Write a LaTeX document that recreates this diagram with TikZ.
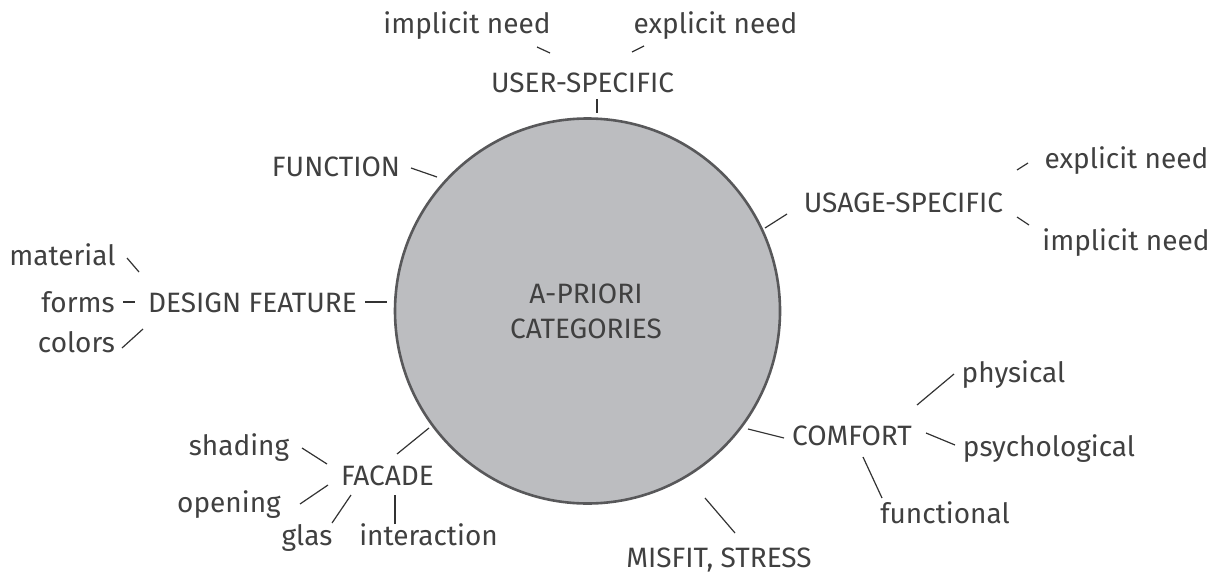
\documentclass[tikz,border=0pt]{standalone}
\usepackage{fontspec}
\setmainfont{Fira Sans}
\definecolor{txt}{HTML}{404040}
\definecolor{lin}{HTML}{333333}
\definecolor{circfill}{HTML}{BCBDC0}
\definecolor{circline}{HTML}{58585A}
\begin{document}
\begin{tikzpicture}[x=1pt,y=-1pt,
  lbl/.style={text=txt, inner sep=0pt, anchor=base, font=\fontsize{28}{32}\selectfont},
  conn/.style={draw=lin, line width=1.2pt},
  core/.style={circle, fill=circfill, draw=circline, line width=2.6pt, minimum size=385pt, inner sep=0pt}]
\useasboundingbox (0,0) rectangle (1217,575);
% central circle
\node[core] (c) at (587.5,311) {};
\node[text=txt, inner sep=0pt, anchor=north, align=center, font=\fontsize{28}{35}\selectfont] (ctr) at (586,284) {A-PRIORI\\CATEGORIES};
% labels
\node[lbl] (imp1) at (467,34) {implicit need};
\node[lbl] (exp1) at (715.5,34) {explicit need};
\node[lbl] (usr) at (582.5,93) {USER-SPECIFIC};
\node[lbl] (fun) at (336,176) {FUNCTION};
\node[lbl] (usg) at (903.5,212) {USAGE-SPECIFIC};
\node[lbl] (exp2) at (1126.5,168) {explicit need};
\node[lbl] (imp2) at (1126,250) {implicit need};
\node[lbl] (mat) at (62.5,265) {material};
\node[lbl] (frm) at (78,312) {forms};
\node[lbl] (des) at (252.5,312) {DESIGN FEATURE};
\node[lbl] (col) at (76.5,352) {colors};
\node[lbl] (sha) at (239,455) {shading};
\node[lbl] (fac) at (387.5,485) {FACADE};
\node[lbl] (ope) at (229,512) {opening};
\node[lbl] (gla) at (307,545) {glas};
\node[lbl] (int) at (428.5,545) {interaction};
\node[lbl] (phy) at (1013.5,382) {physical};
\node[lbl] (com) at (852,445) {COMFORT};
\node[lbl] (psy) at (1049,456) {psychological};
\node[lbl] (fnc) at (945,523) {functional};
\node[lbl] (mis) at (719,567) {MISFIT, STRESS};
% connectors
\draw[conn] ([shift={(70,13)}]imp1.base) -- ([shift={(-32.5,-40)}]usr.base);
\draw[conn] ([shift={(-71.5,12)}]exp1.base) -- ([shift={(49.5,-41)}]usr.base);
\draw[conn] ([shift={(14.5,6)}]usr.base) -- ([shift={(9.5,-198)}]c.center);
\draw[conn] ([shift={(75,-8)}]fun.base) -- ([shift={(-150.5,-134)}]c.center);
\draw[conn] ([shift={(-116.5,2)}]usg.base) -- ([shift={(177.5,-83)}]c.center);
\draw[conn] ([shift={(113.5,-42)}]usg.base) -- ([shift={(-98.5,-5)}]exp2.base);
\draw[conn] ([shift={(113.5,5)}]usg.base) -- ([shift={(-97,-25)}]imp2.base);
\draw[conn] ([shift={(64.5,-7)}]mat.base) -- ([shift={(-113.5,-40)}]des.base);
\draw[conn] ([shift={(45,-10)}]frm.base) -- ([shift={(-117.5,-10)}]des.base);
\draw[conn] ([shift={(45.5,-4)}]col.base) -- ([shift={(-109.5,17)}]des.base);
\draw[conn] ([shift={(112.5,-10)}]des.base) -- ([shift={(-200.5,-9)}]c.center);
\draw[conn] ([shift={(9.5,-31)}]fac.base) -- ([shift={(-158.5,117)}]c.center);
\draw[conn] ([shift={(63,-7)}]sha.base) -- ([shift={(-60.5,-21)}]fac.base);
\draw[conn] ([shift={(71,-8)}]ope.base) -- ([shift={(-59.5,0)}]fac.base);
\draw[conn] ([shift={(25,-22)}]gla.base) -- ([shift={(-36.5,10)}]fac.base);
\draw[conn] ([shift={(-33.5,-21)}]int.base) -- ([shift={(7.5,10)}]fac.base);
\draw[conn] ([shift={(-68,-7)}]com.base) -- ([shift={(160.5,118)}]c.center);
\draw[conn] ([shift={(65,-40)}]com.base) -- ([shift={(-59.5,-8)}]phy.base);
\draw[conn] ([shift={(74,-12)}]com.base) -- ([shift={(-94,-11)}]psy.base);
\draw[conn] ([shift={(11,12)}]com.base) -- ([shift={(-63,-25)}]fnc.base);
\draw[conn] ([shift={(16,-34)}]mis.base) -- ([shift={(117.5,187)}]c.center);
\end{tikzpicture}
\end{document}
